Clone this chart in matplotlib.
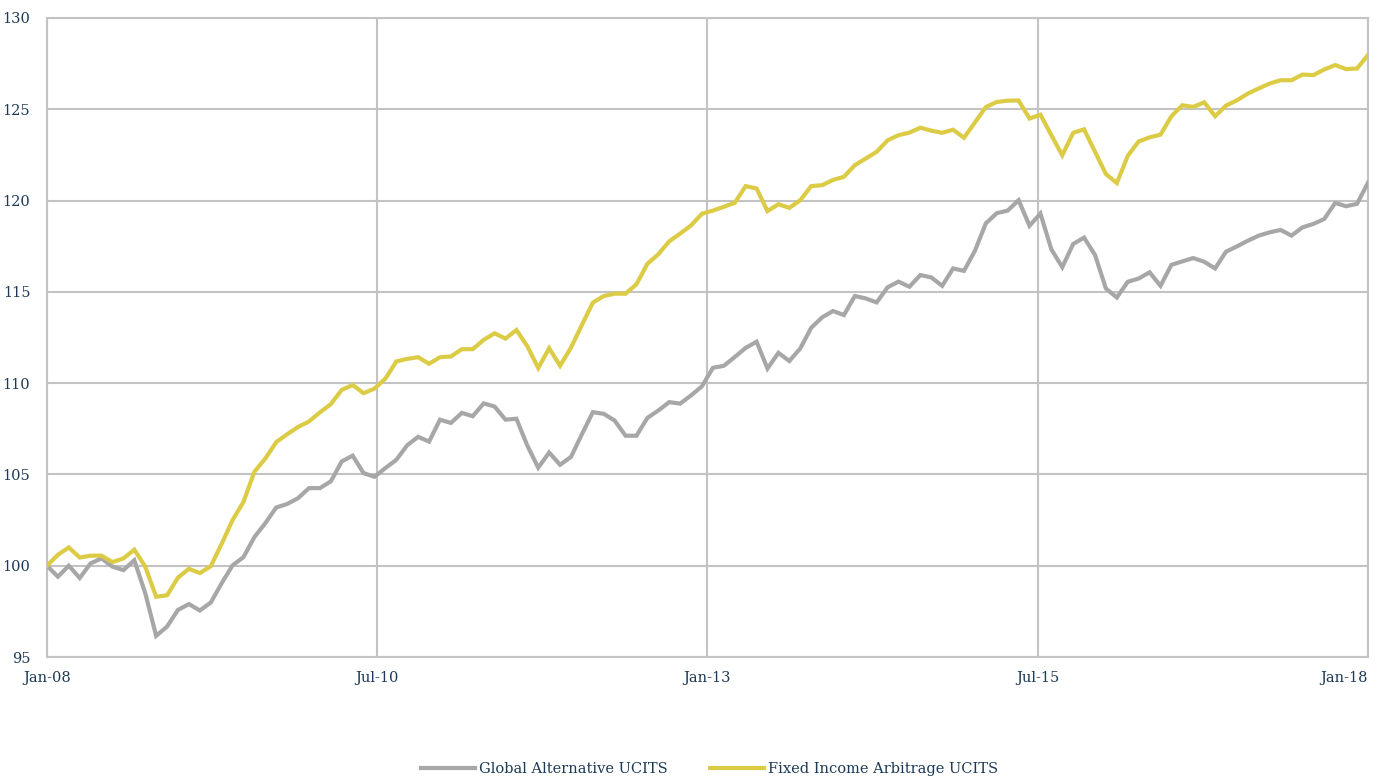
import numpy as np
import matplotlib.pyplot as plt

# ============================================================
# DATA (index levels, start = 100)
# ============================================================

global_alt = [
    100.0, 99.4, 100.0, 99.33, 100.13, 100.4, 99.95, 99.76, 100.3, 98.5,
    96.16, 96.67, 97.58, 97.9, 97.55, 97.98, 99.04, 100.02, 100.47, 101.57,
    102.33, 103.19, 103.38, 103.7, 104.25, 104.25, 104.62, 105.71, 106.03, 105.07,
    104.87, 105.35, 105.8, 106.6, 107.06, 106.8, 108.0, 107.82, 108.37, 108.19,
    108.89, 108.72, 108.0, 108.05, 106.58, 105.37, 106.2, 105.53, 105.96, 107.2,
    108.41, 108.32, 107.95, 107.12, 107.12, 108.1, 108.5, 108.96, 108.88, 109.33,
    109.83, 110.84, 110.95, 111.43, 111.93, 112.27, 110.8, 111.66, 111.21, 111.9,
    113.03, 113.6, 113.95, 113.73, 114.77, 114.64, 114.42, 115.25, 115.56, 115.28,
    115.92, 115.79, 115.33, 116.28, 116.15, 117.25, 118.75, 119.31, 119.45, 120.02,
    118.62, 119.29, 117.33, 116.35, 117.62, 117.97, 117.02, 115.18, 114.69, 115.55,
    115.73, 116.07, 115.33, 116.48, 116.67, 116.85, 116.65, 116.28, 117.2, 117.49,
    117.8, 118.08, 118.26, 118.39, 118.08, 118.53, 118.72, 118.99, 119.87, 119.69,
    119.82, 120.97,
]

fixed_income_arb = [
    100.0, 100.6, 101.0, 100.45, 100.55, 100.55, 100.2, 100.4, 100.88, 99.95,
    98.3, 98.38, 99.35, 99.83, 99.6, 99.97, 101.2, 102.5, 103.5, 105.15,
    105.87, 106.77, 107.2, 107.6, 107.9, 108.4, 108.85, 109.63, 109.9, 109.45,
    109.7, 110.25, 111.19, 111.33, 111.42, 111.06, 111.42, 111.46, 111.86, 111.86,
    112.37, 112.73, 112.44, 112.91, 112.02, 110.83, 111.91, 110.95, 111.95, 113.19,
    114.41, 114.77, 114.9, 114.9, 115.42, 116.54, 117.06, 117.77, 118.19, 118.64,
    119.28, 119.45, 119.66, 119.88, 120.79, 120.66, 119.42, 119.8, 119.6, 120.02,
    120.79, 120.84, 121.13, 121.3, 121.94, 122.3, 122.67, 123.3, 123.58, 123.72,
    123.99, 123.83, 123.71, 123.88, 123.44, 124.28, 125.12, 125.4, 125.47, 125.48,
    124.49, 124.7, 123.58, 122.48, 123.71, 123.9, 122.67, 121.45, 120.96, 122.45,
    123.24, 123.46, 123.61, 124.62, 125.22, 125.13, 125.38, 124.62, 125.2, 125.49,
    125.86, 126.14, 126.41, 126.59, 126.59, 126.9, 126.87, 127.18, 127.42, 127.2,
    127.23, 127.97,
]

x_labels = ["Jan-08", "Jul-10", "Jan-13", "Jul-15", "Jan-18"]
y_ticks = [95, 100, 105, 110, 115, 120, 125, 130]

series_names = ["Global Alternative UCITS", "Fixed Income Arbitrage UCITS"]

# ============================================================
# STYLE
# ============================================================

GRAY = "#a7a7a7"
YELLOW = "#dccb45"
GRID = "#c3c3c3"
TEXT = "#1c3a57"

plt.rcParams["font.family"] = ["DejaVu Serif"]

# ============================================================
# PLOT
# ============================================================

fig = plt.figure(figsize=(13.94, 7.78), dpi=100)
ax = fig.add_axes([0.0337, 0.1555, 0.9476, 0.8214])

x = np.arange(len(global_alt))
ax.plot(x, global_alt, color=GRAY, lw=3.0, label=series_names[0],
        solid_joinstyle="miter", zorder=3)
ax.plot(x, fixed_income_arb, color=YELLOW, lw=3.0, label=series_names[1],
        solid_joinstyle="miter", zorder=4)

n_last = len(global_alt) - 1
ax.set_xlim(0, n_last)
ax.set_ylim(95, 130)
ax.set_xticks(np.linspace(0, n_last, len(x_labels)))
ax.set_xticklabels(x_labels)
ax.set_yticks(y_ticks)

# last date label sits inside the plot edge
ax.get_xticklabels()[-1].set_horizontalalignment("right")

ax.grid(True, color=GRID, lw=1.5)
ax.set_axisbelow(True)
for s in ax.spines.values():
    s.set_color(GRID)
    s.set_linewidth(1.5)

ax.tick_params(axis="both", length=0, labelsize=10.5, colors=TEXT)
ax.tick_params(axis="y", pad=12)
ax.tick_params(axis="x", pad=10)

fig.legend(loc="center", bbox_to_anchor=(0.509, 0.012), ncol=2, frameon=False,
           fontsize=10.5, labelcolor=TEXT, handlelength=3.7, handletextpad=0.28,
           columnspacing=2.95)

fig.savefig("out.png", dpi=100)
